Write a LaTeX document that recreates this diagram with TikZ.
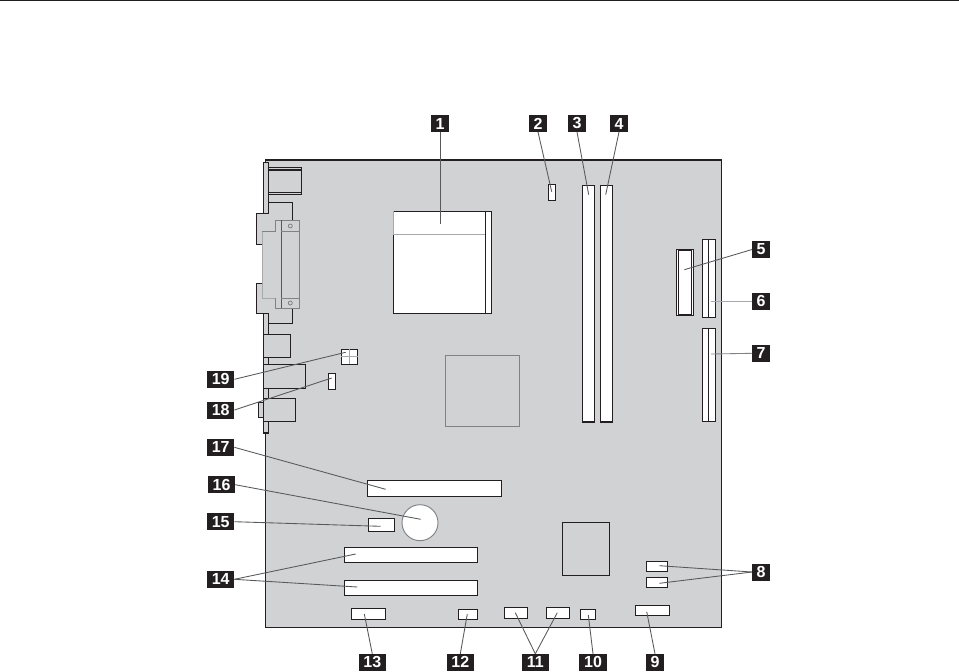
\documentclass[tikz,border=0pt]{standalone}
\usepackage{fontspec}
\setmainfont{Liberation Sans}
\newfontfamily\labelfont[BoldFeatures={FakeBold=1.5}]{Liberation Sans Bold}
\newcommand{\partbox}[6][]{%
  \pgfmathsetmacro{\pw}{(#5-#3)*0.75}\pgfmathsetmacro{\ph}{(#6-#4)*0.75}%
  \pgfmathsetmacro{\pcx}{(#5+#3)/2}\pgfmathsetmacro{\pcy}{(#6+#4)/2}%
  \node[part,minimum width=\pw pt,minimum height=\ph pt,#1] (#2) at (\pcx,\pcy) {};}
\tikzset{
  part/.style={draw=linedark,fill=white,line width=0.9pt,inner sep=0pt,outer sep=0pt,rectangle},
  graypart/.style={fill=boardgray},
  badge/.style={fill=badgeblack,text=white,font=\labelfont\bfseries\fontsize{12}{12}\selectfont,inner sep=0pt,minimum height=12.75pt,outer sep=0pt},
  one/.style={badge,minimum width=13.5pt},
  two/.style={badge,minimum width=20.5pt},
  leader/.style={draw=leadergray,line width=0.65pt},
  outline/.style={draw=linedark,line width=0.9pt,fill=boardgray,line join=miter},
  soft/.style={draw=softgray,line width=0.8pt}
}
\definecolor{boardgray}{HTML}{D1D2D4}
\definecolor{linedark}{HTML}{231F20}
\definecolor{badgeblack}{HTML}{231F20}
\definecolor{leadergray}{HTML}{58595B}
\definecolor{softgray}{HTML}{808285}
\definecolor{palegray}{HTML}{A7A9AC}
\begin{document}
\begin{tikzpicture}[x=0.75pt,y=-0.75pt]
\useasboundingbox (0,0) rectangle (959,671);
\fill[linedark] (0,0) rectangle (959,1);
% board
\draw[outline] (265.3,160) rectangle (721.7,627.3);
% rear panel
\draw[outline] (263.3,162.3) rectangle (268.7,433);
\draw[outline] (268.7,167.3) rectangle (301.7,194.3);
\draw[linedark,line width=0.9pt] (268.7,170) -- (301.7,170) (268.7,192.3) -- (301.7,192.3);
% parallel port shell
\draw[outline] (268.7,202.3) -- (292.3,202.3) -- (292.3,323.3) -- (268.7,323.3) -- (268.7,313.3) -- (256.3,313.3) -- (256.3,283.3) -- (265,283.3) -- (265,244.3) -- (256.3,244.3) -- (256.3,213.3) -- (268.7,213.3) -- cycle;
\fill[boardgray] (264,214) rectangle (292,312);
\draw[linedark,line width=0.9pt] (256.3,244.3) -- (263.3,244.3) (256.3,283.3) -- (263.3,283.3);
\draw[fill=boardgray,draw=softgray,line width=0.8pt] (275.3,220.3) -- (299.3,220.3) -- (299.3,308.3) -- (275.3,308.3) -- (275.3,298.7) -- (262.7,298.7) -- (262.7,231.7) -- (275.3,231.7) -- cycle;
\draw[draw=palegray,line width=1pt] (262.7,231.7) -- (262.7,298.7) -- (275.3,298.7);
\draw[linedark!75,line width=0.7pt] (281.3,220.3) -- (281.3,308.3);
\draw[soft] (281.3,231.3) -- (299.3,231.3) (281.3,298.3) -- (299.3,298.3);
\draw[softgray,line width=0.6pt] (290.3,226) circle (2) (290.3,303) circle (2);
% other rear connectors
\draw[outline] (263.3,334.3) rectangle (290.3,357.3);
\draw[outline] (263.3,364.3) rectangle (305.3,388.3);
\draw[outline] (258.3,402.3) rectangle (263.3,417.3);
\draw[outline] (263.3,398.3) rectangle (295.3,421.3);
% chips
\draw[softgray,line width=0.6pt] (445,355) rectangle (519,426);
\partbox[graypart]{chip}{562.3}{522.3}{609.7}{575.7}
% CPU
\partbox{cpustrip}{485.3}{211.3}{491.3}{313.3}
\partbox[draw=none]{cpu}{393.3}{211.3}{485.3}{313.3}
\draw[linedark,line width=0.9pt] (393.3,234.3) -- (393.3,313.3) -- (485.3,313.3) -- (485.3,211.3) -- (393.3,211.3);
\draw[palegray,line width=0.8pt] (393.3,211.3) -- (393.3,234.3) -- (485.3,234.3);
% parts
\partbox{fan}{548.3}{184.3}{555.7}{200.3}
\partbox{dimma}{582.3}{185.3}{594.7}{422}
\partbox{dimmb}{600.3}{185.3}{612.7}{422}
\partbox{power}{676.3}{249.3}{693.3}{315.7}
\draw[linedark,line width=0.9pt] (678.2,250.6) rectangle (691.8,314.6);
\partbox{idea}{702.3}{239.3}{715.7}{317.7}
\draw[linedark,line width=0.9pt] (708.3,239.3) -- (708.3,317.7);
\partbox{ideb}{702.3}{328.3}{715.7}{421.3}
\draw[linedark,line width=0.9pt] (708.3,328.3) -- (708.3,421.3);
\partbox{pwrb}{341.3}{349.3}{357.7}{364.3}
\draw[palegray,line width=0.7pt] (349,349.3) -- (349,364.3) (341.3,356.3) -- (357.7,356.3);
\partbox{sysfan}{328.3}{373.3}{335.7}{389.3}
\partbox{pcie}{367.3}{480.3}{501.7}{496.7}
\node[part,draw=softgray,line width=0.7pt,circle,minimum size=27pt] (batt) at (420,522.7) {};
\partbox{cmos}{368.3}{518.3}{394.7}{531.7}
\partbox{pcia}{344.3}{547.3}{477.7}{562.7}
\partbox{pcib}{344.3}{580.3}{477.7}{595.7}
\partbox{serial}{351.3}{608.3}{385.7}{619.7}
\partbox{spdif}{458.3}{609.3}{477.7}{619.7}
\partbox{usba}{504.3}{607.3}{527.7}{618.7}
\partbox{usbb}{546.3}{607.3}{569.7}{618.7}
\partbox{clr}{580.3}{609.3}{595.7}{619.7}
\partbox{audio}{635.3}{605.3}{669.7}{615.7}
\partbox{sataa}{646.3}{561.3}{667.7}{571.7}
\partbox{satab}{646.3}{577.3}{667.7}{587.7}
% badges
\node[one] (l1) at (440,123.5) {1};
\node[one] (l2) at (538,123.5) {2};
\node[one] (l3) at (577,123.5) {3};
\node[one] (l4) at (619,123.5) {4};
\node[one] (l5) at (761,249.5) {5};
\node[one] (l6) at (761,301.3) {6};
\node[one] (l7) at (761,353.3) {7};
\node[one] (l8) at (761,572) {8};
\node[one] (l9) at (655,662.3) {9};
\node[two] (l10) at (593,662.3) {10};
\node[two] (l11) at (535.3,662.3) {11};
\node[two] (l12) at (460.3,662.3) {12};
\node[two] (l13) at (372.3,662.3) {13};
\node[two] (l14) at (220.7,579.3) {14};
\node[two] (l15) at (220.7,521.7) {15};
\node[two] (l16) at (221.5,484.7) {16};
\node[two] (l17) at (220.7,447.3) {17};
\node[two] (l18) at (220.7,410) {18};
\node[two] (l19) at (220.7,379.3) {19};
% leader ends
\coordinate (e1) at (440,223.7);
\coordinate (e2) at (551.7,191.7);
\coordinate (e3) at (588.7,194.7);
\coordinate (e4) at (605.7,194.7);
\coordinate (e5) at (684.3,269.7);
\coordinate (e6) at (711.3,301.3);
\coordinate (e7) at (711,354);
\coordinate (e8a) at (659.3,565.7);
\coordinate (e8b) at (659.3,583.3);
\coordinate (e9) at (646.7,611.7);
\coordinate (e10) at (588.3,615);
\coordinate (e11a) at (515.3,612.7);
\coordinate (e11b) at (557.3,612.7);
\coordinate (e12) at (467.3,614);
\coordinate (e13) at (364.3,614);
\coordinate (e14a) at (355.7,554);
\coordinate (e14b) at (357.3,587);
\coordinate (e15) at (380.7,526.3);
\coordinate (e16) at (420.7,519.3);
\coordinate (e17) at (385.7,489.3);
\coordinate (e18) at (331.7,378);
\coordinate (e19) at (345.7,352.3);
% leaders
\draw[leader] (l1.south) -- (e1);
\draw[leader] (l2.south) -- (e2);
\draw[leader] (l3.south) -- (e3);
\draw[leader] (l4.south) -- (e4);
\draw[leader] (l5.west) -- (e5);
\draw[leader,draw=palegray] (l6.west) -- (e6);
\draw[leader,draw=softgray] (l7.west) -- (e7);
\draw[leader] (l8.west) -- (e8a);
\draw[leader] (l8.west) -- (e8b);
\draw[leader] (l9.north) -- (e9);
\draw[leader] (l10.north) -- (e10);
\draw[leader] (l11.north) -- (e11a);
\draw[leader] (l11.north) -- (e11b);
\draw[leader] (l12.north) -- (e12);
\draw[leader] (l13.north) -- (e13);
\draw[leader] (l14.east) -- (e14a);
\draw[leader] (l14.east) -- (e14b);
\draw[leader] (l15.east) -- (e15);
\draw[leader] (l16.east) -- (e16);
\draw[leader] (l17.east) -- (e17);
\draw[leader] (l18.east) -- (e18);
\draw[leader] (l19.east) -- (e19);
\end{tikzpicture}
\end{document}
